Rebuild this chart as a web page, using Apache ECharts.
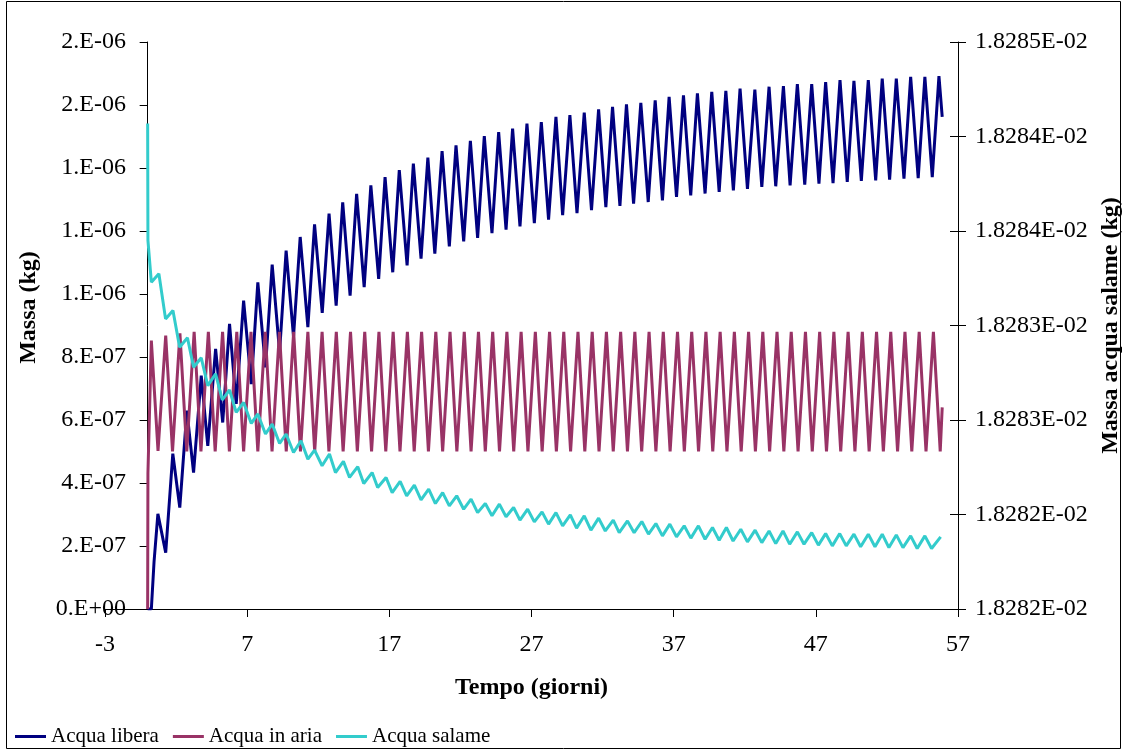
<!DOCTYPE html>
<html>
<head>
<meta charset="utf-8">
<script src="https://cdn.jsdelivr.net/npm/echarts@6/dist/echarts.min.js"></script>
<style>
html,body{margin:0;padding:0;background:#fff;}
#chart{width:1124px;height:751px;}
</style>
</head>
<body>
<div id="chart"></div>
<script>
// ---- Data ----
const seriesNames = ['Acqua libera', 'Acqua in aria', 'Acqua salame'];

const leftTickLabels = ['0.E+00','2.E-07','4.E-07','6.E-07','8.E-07','1.E-06','1.E-06','1.E-06','2.E-06','2.E-06'];
const rightTickLabels = ['1.8282E-02','1.8282E-02','1.8283E-02','1.8283E-02','1.8284E-02','1.8284E-02','1.8285E-02'];

// Acqua libera (kg), time in days
const liberaTime = [0, 0.26, 0.45, 0.72,
  1.27, 1.77, 2.26, 2.76, 3.23, 3.77, 4.23, 4.78, 5.28, 5.76,
  6.23, 6.75, 7.29, 7.75, 8.29, 8.76, 9.28, 9.74, 10.26, 10.73,
  11.27, 11.74, 12.28, 12.76, 13.26, 13.72, 14.24, 14.7, 15.23, 15.7,
  16.25, 16.7, 17.24, 17.7, 18.25, 18.69, 19.23, 19.71, 20.2, 20.71,
  21.22, 21.69, 22.23, 22.7, 23.21, 23.68, 24.22, 24.69, 25.21, 25.67,
  26.19, 26.68, 27.2, 27.69, 28.2, 28.72, 29.19, 29.7, 30.2, 30.71,
  31.22, 31.72, 32.23, 32.7, 33.22, 33.68, 34.18, 34.69, 35.21, 35.7,
  36.21, 36.68, 37.2, 37.69, 38.2, 38.67, 39.21, 39.68, 40.2, 40.67,
  41.2, 41.67, 42.19, 42.71, 43.2, 43.71, 44.18, 44.72, 45.19, 45.7,
  46.22, 46.71, 47.22, 47.69, 48.21, 48.7, 49.21, 49.68, 50.2, 50.69,
  51.21, 51.67, 52.19, 52.66, 53.2, 53.67, 54.2, 54.67, 55.19, 55.66,
  55.89];
const liberaMass = [0, 0, 1.5e-7, 3.02e-7,
  1.79e-7, 4.93e-7, 3.22e-7, 6.30e-7, 4.33e-7, 7.41e-7, 5.18e-7, 8.26e-7, 5.92e-7, 9.05e-7,
  6.51e-7, 9.79e-7, 7.14e-7, 1.037e-6, 7.67e-7, 1.093e-6, 8.15e-7, 1.138e-6, 8.65e-7, 1.181e-6,
  8.95e-7, 1.221e-6, 9.40e-7, 1.255e-6, 9.63e-7, 1.291e-6, 9.95e-7, 1.318e-6, 1.022e-6, 1.345e-6,
  1.048e-6, 1.371e-6, 1.069e-6, 1.393e-6, 1.091e-6, 1.414e-6, 1.112e-6, 1.433e-6, 1.128e-6, 1.454e-6,
  1.151e-6, 1.472e-6, 1.167e-6, 1.486e-6, 1.178e-6, 1.501e-6, 1.193e-6, 1.514e-6, 1.204e-6, 1.525e-6,
  1.215e-6, 1.541e-6, 1.225e-6, 1.546e-6, 1.236e-6, 1.562e-6, 1.250e-6, 1.568e-6, 1.257e-6, 1.576e-6,
  1.266e-6, 1.586e-6, 1.276e-6, 1.594e-6, 1.280e-6, 1.602e-6, 1.287e-6, 1.607e-6, 1.292e-6, 1.615e-6,
  1.297e-6, 1.626e-6, 1.308e-6, 1.631e-6, 1.313e-6, 1.637e-6, 1.319e-6, 1.642e-6, 1.324e-6, 1.645e-6,
  1.329e-6, 1.652e-6, 1.334e-6, 1.649e-6, 1.340e-6, 1.658e-6, 1.342e-6, 1.660e-6, 1.345e-6, 1.666e-6,
  1.347e-6, 1.666e-6, 1.350e-6, 1.673e-6, 1.352e-6, 1.679e-6, 1.356e-6, 1.677e-6, 1.359e-6, 1.679e-6,
  1.361e-6, 1.684e-6, 1.363e-6, 1.684e-6, 1.366e-6, 1.689e-6, 1.368e-6, 1.689e-6, 1.371e-6, 1.692e-6,
  1.562e-6];

// Acqua in aria (kg)
const ariaTime = [0, 0.02, 0.26, 0.73,
  1.27, 1.75, 2.27, 2.75, 3.27, 3.75, 4.27, 4.75, 5.27, 5.75,
  6.27, 6.75, 7.27, 7.75, 8.27, 8.75, 9.27, 9.75, 10.27, 10.75,
  11.27, 11.75, 12.27, 12.75, 13.27, 13.75, 14.27, 14.75, 15.27, 15.75,
  16.27, 16.75, 17.27, 17.75, 18.27, 18.75, 19.27, 19.75, 20.27, 20.75,
  21.27, 21.75, 22.27, 22.75, 23.27, 23.75, 24.27, 24.75, 25.27, 25.75,
  26.27, 26.75, 27.27, 27.75, 28.27, 28.75, 29.27, 29.75, 30.27, 30.75,
  31.27, 31.75, 32.27, 32.75, 33.27, 33.75, 34.27, 34.75, 35.27, 35.75,
  36.27, 36.75, 37.27, 37.75, 38.27, 38.75, 39.27, 39.75, 40.27, 40.75,
  41.27, 41.75, 42.27, 42.75, 43.27, 43.75, 44.27, 44.75, 45.27, 45.75,
  46.27, 46.75, 47.27, 47.75, 48.27, 48.75, 49.27, 49.75, 50.27, 50.75,
  51.27, 51.75, 52.27, 52.75, 53.27, 53.75, 54.27, 54.75, 55.27, 55.75,
  55.89];
const ariaMass = [0, 4.3e-7, 8.52e-7, 5.02e-7,
  8.68e-7, 5.0e-7, 8.75e-7, 5.0e-7, 8.8e-7, 5.0e-7, 8.8e-7, 5.0e-7, 8.8e-7, 5.0e-7,
  8.8e-7, 5.0e-7, 8.8e-7, 5.0e-7, 8.8e-7, 5.0e-7, 8.8e-7, 5.0e-7, 8.8e-7, 5.0e-7,
  8.8e-7, 5.0e-7, 8.8e-7, 5.0e-7, 8.8e-7, 5.0e-7, 8.8e-7, 5.0e-7, 8.8e-7, 5.0e-7,
  8.8e-7, 5.0e-7, 8.8e-7, 5.0e-7, 8.8e-7, 5.0e-7, 8.8e-7, 5.0e-7, 8.8e-7, 5.0e-7,
  8.8e-7, 5.0e-7, 8.8e-7, 5.0e-7, 8.8e-7, 5.0e-7, 8.8e-7, 5.0e-7, 8.8e-7, 5.0e-7,
  8.8e-7, 5.0e-7, 8.8e-7, 5.0e-7, 8.8e-7, 5.0e-7, 8.8e-7, 5.0e-7, 8.8e-7, 5.0e-7,
  8.8e-7, 5.0e-7, 8.8e-7, 5.0e-7, 8.8e-7, 5.0e-7, 8.8e-7, 5.0e-7, 8.8e-7, 5.0e-7,
  8.8e-7, 5.0e-7, 8.8e-7, 5.0e-7, 8.8e-7, 5.0e-7, 8.8e-7, 5.0e-7, 8.8e-7, 5.0e-7,
  8.8e-7, 5.0e-7, 8.8e-7, 5.0e-7, 8.8e-7, 5.0e-7, 8.8e-7, 5.0e-7, 8.8e-7, 5.0e-7,
  8.8e-7, 5.0e-7, 8.8e-7, 5.0e-7, 8.8e-7, 5.0e-7, 8.8e-7, 5.0e-7, 8.8e-7, 5.0e-7,
  8.8e-7, 5.0e-7, 8.8e-7, 5.0e-7, 8.8e-7, 5.0e-7, 8.8e-7, 5.0e-7, 8.8e-7, 5.0e-7,
  6.4e-7];

// Acqua salame (kg), right axis
const salameTime = [0, 0.02, 0.26, 0.79,
  1.26, 1.78, 2.25, 2.8, 3.23, 3.77, 4.23, 4.78, 5.25, 5.76,
  6.23, 6.75, 7.29, 7.75, 8.29, 8.76, 9.28, 9.74, 10.26, 10.79,
  11.27, 11.74, 12.27, 12.79, 13.21, 13.77, 14.2, 14.78, 15.2, 15.79,
  16.18, 16.77, 17.2, 17.76, 18.22, 18.76, 19.23, 19.77, 20.24, 20.75,
  21.22, 21.74, 22.23, 22.75, 23.21, 23.75, 24.22, 24.74, 25.21, 25.74,
  26.19, 26.73, 27.2, 27.74, 28.2, 28.72, 29.19, 29.73, 30.17, 30.71,
  31.18, 31.72, 32.19, 32.75, 33.17, 33.75, 34.22, 34.76, 35.23, 35.75,
  36.21, 36.73, 37.2, 37.74, 38.21, 38.74, 39.21, 39.73, 40.2, 40.71,
  41.18, 41.72, 42.19, 42.73, 43.2, 43.71, 44.18, 44.69, 45.16, 45.7,
  46.17, 46.71, 47.18, 47.69, 48.16, 48.68, 49.14, 49.68, 50.15, 50.69,
  51.16, 51.67, 52.14, 52.66, 53.13, 53.67, 54.13, 54.67, 55.14, 55.78];
const salameMass = [0.018284569, 0.01828395, 0.018283729, 0.018283774,
  0.018283535, 0.018283579, 0.018283385, 0.018283435, 0.018283279, 0.018283329,
  0.018283182, 0.018283244, 0.018283106, 0.018283159,
  0.01828304, 0.018283093, 0.018282982, 0.018283032, 0.018282926, 0.018282979,
  0.018282876, 0.018282926, 0.018282828, 0.01828289,
  0.018282793, 0.018282841, 0.018282758, 0.01828282, 0.018282722, 0.018282781,
  0.018282696, 0.018282753, 0.018282664, 0.018282722,
  0.018282643, 0.018282696, 0.018282616, 0.018282675, 0.018282599, 0.018282656,
  0.018282578, 0.018282634, 0.018282558, 0.018282616,
  0.018282546, 0.018282599, 0.018282528, 0.018282581, 0.01828251, 0.018282558,
  0.018282493, 0.018282555, 0.018282488, 0.018282537,
  0.01828247, 0.018282528, 0.018282461, 0.018282514, 0.018282449, 0.01828251,
  0.01828244, 0.018282498, 0.018282428, 0.018282493,
  0.018282417, 0.018282481, 0.018282413, 0.01828247, 0.018282404, 0.018282466,
  0.018282404, 0.018282463, 0.018282396, 0.018282452,
  0.018282387, 0.018282449, 0.018282382, 0.01828244, 0.018282375, 0.01828244,
  0.018282369, 0.018282431, 0.018282364, 0.018282431,
  0.01828236, 0.018282422, 0.018282355, 0.018282417, 0.018282351, 0.018282413,
  0.018282346, 0.018282413, 0.018282343, 0.018282408,
  0.018282343, 0.018282404, 0.018282338, 0.018282399, 0.018282334, 0.018282399,
  0.018282334, 0.018282396, 0.018282329, 0.018282396,
  0.018282329, 0.018282396, 0.018282325, 0.018282392, 0.018282325, 0.018282387,
  0.01828232, 0.018282387, 0.01828232, 0.018282382];

// ---- Chart ----
const FONT = 'Liberation Serif';
const pairs = (ts, vs) => ts.map((t, i) => [t, vs[i]]);
const leftMin = 0, leftMax = 1.8e-6, leftStep = 2e-7;
const rightMin = 0.018282, rightMax = 0.018285, rightStep = 5e-7;

const chart = echarts.init(document.getElementById('chart'), null, {renderer: 'canvas'});
chart.setOption({
  animation: false,
  backgroundColor: '#ffffff',
  textStyle: {fontFamily: FONT, color: '#000'},
  grid: {left: 105, right: 166, top: 42, bottom: 142, containLabel: false, outerBoundsMode: 'none'},
  graphic: [{
    type: 'rect', shape: {x: 6.5, y: 1.5, width: 1114, height: 747},
    style: {fill: 'none', stroke: '#000', lineWidth: 1}, silent: true, z: -1
  }],
  legend: {
    left: 10, top: 721, itemWidth: 31, itemHeight: 3, itemGap: 14, icon: 'rect',
    textStyle: {fontFamily: FONT, fontSize: 21, color: '#000'},
    data: seriesNames
  },
  xAxis: {
    type: 'value', min: -3, max: 57, interval: 10,
    name: 'Tempo (giorni)', nameLocation: 'middle', nameGap: 67,
    nameTextStyle: {fontFamily: FONT, fontSize: 24, fontWeight: 'bold', color: '#000'},
    axisLine: {onZero: true, lineStyle: {color: '#000', width: 1}},
    axisTick: {show: true, inside: false, length: 8, lineStyle: {color: '#000'}},
    axisLabel: {fontFamily: FONT, fontSize: 24, color: '#000', margin: 24},
    splitLine: {show: false}
  },
  yAxis: [{
    type: 'value', min: leftMin, max: leftMax, interval: leftStep, position: 'left',
    name: 'Massa (kg)', nameLocation: 'middle', nameGap: 64, nameRotate: 90, nameMoveOverlap: false,
    nameTextStyle: {fontFamily: FONT, fontSize: 24, fontWeight: 'bold', color: '#000', padding: [0, 0, 0, 36]},
    axisLine: {show: true, onZero: true, lineStyle: {color: '#000', width: 1}},
    axisTick: {show: true, inside: false, length: 8, lineStyle: {color: '#000'}},
    axisLabel: {fontFamily: FONT, fontSize: 24, color: '#000', margin: -21,
      formatter: v => leftTickLabels[Math.round((v - leftMin) / leftStep)]},
    splitLine: {show: false}
  }, {
    type: 'value', min: rightMin, max: rightMax, interval: rightStep, position: 'right',
    name: 'Massa acqua salame (kg)', nameLocation: 'middle', nameGap: 135, nameRotate: 90,
    nameTextStyle: {fontFamily: FONT, fontSize: 24, fontWeight: 'bold', color: '#000'},
    axisLine: {show: true, onZero: false, lineStyle: {color: '#000', width: 1}},
    axisTick: {show: true, inside: false, length: 8, lineStyle: {color: '#000'}},
    axisLabel: {fontFamily: FONT, fontSize: 24, color: '#000', margin: 17,
      formatter: v => rightTickLabels[Math.round((v - rightMin) / rightStep)]},
    splitLine: {show: false}
  }, {
    type: 'value', min: rightMin, max: rightMax, interval: rightStep, position: 'right',
    axisLine: {show: false, onZero: false},
    axisTick: {show: true, inside: true, length: 8, lineStyle: {color: '#000'}},
    axisLabel: {show: false},
    splitLine: {show: false}
  }],
  series: [{
    name: seriesNames[0], type: 'line', yAxisIndex: 0, showSymbol: false,
    data: pairs(liberaTime, liberaMass),
    lineStyle: {color: '#000080', width: 3}, itemStyle: {color: '#000080'}
  }, {
    name: seriesNames[1], type: 'line', yAxisIndex: 0, showSymbol: false,
    data: pairs(ariaTime, ariaMass),
    lineStyle: {color: '#993366', width: 3}, itemStyle: {color: '#993366'}
  }, {
    name: seriesNames[2], type: 'line', yAxisIndex: 1, showSymbol: false,
    data: pairs(salameTime, salameMass),
    lineStyle: {color: '#33CCCC', width: 3}, itemStyle: {color: '#33CCCC'}
  }]
});
</script>
</body>
</html>
